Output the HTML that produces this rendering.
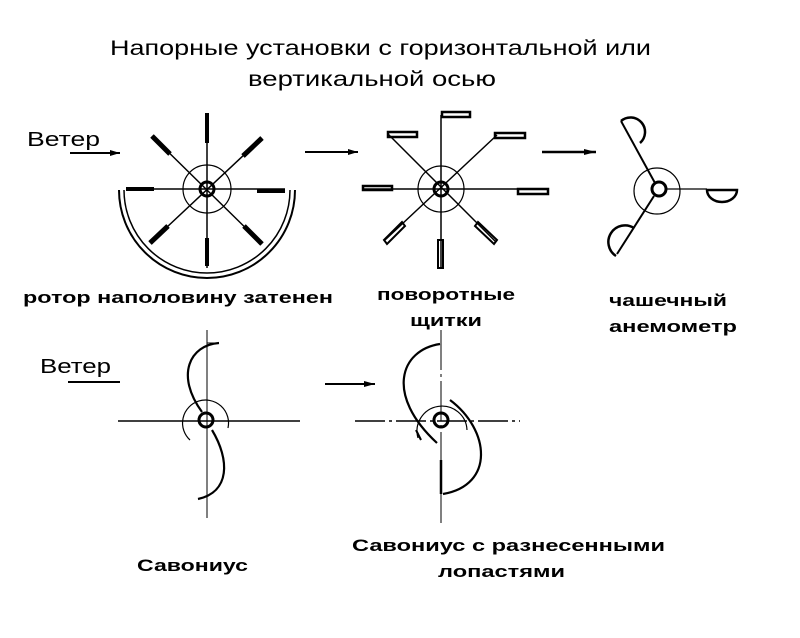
<!DOCTYPE html>
<html><head><meta charset="utf-8"><style>
html,body{margin:0;padding:0;background:#fff;}
svg{display:block;}
text{font-family:"Liberation Sans",sans-serif;fill:#000;}
.b{font-weight:bold;font-size:17px;}
</style></head><body>
<svg width="800" height="638" viewBox="0 0 800 638" xmlns="http://www.w3.org/2000/svg">
<text x="110" y="55" font-size="21" textLength="541" lengthAdjust="spacingAndGlyphs">Напорные установки с горизонтальной или</text>
<text x="248" y="86" font-size="21" textLength="248" lengthAdjust="spacingAndGlyphs">вертикальной осью</text>

<text x="27" y="146" font-size="20" textLength="73" lengthAdjust="spacingAndGlyphs">Ветер</text>
<line x1="70" y1="153" x2="120" y2="153" stroke="#000" stroke-width="2"/>
<polygon points="110,150 120,153 110,156" fill="#000"/>

<g stroke="#000" fill="none">
<line x1="207" y1="113" x2="207" y2="268" stroke-width="1.5"/>
<line x1="207" y1="113" x2="207" y2="143" stroke-width="4"/>
<line x1="207" y1="238" x2="207" y2="266" stroke-width="4"/>
<line x1="126" y1="189" x2="285" y2="189" stroke-width="1.5"/>
<line x1="126" y1="189" x2="154" y2="189" stroke-width="4"/>
<line x1="257" y1="191" x2="285" y2="191" stroke-width="4"/>
<line x1="152" y1="136" x2="262" y2="244" stroke-width="1.5"/>
<line x1="152" y1="136" x2="170" y2="154" stroke-width="5"/>
<line x1="244" y1="226" x2="262" y2="244" stroke-width="5"/>
<line x1="262" y1="138" x2="150" y2="243" stroke-width="1.5"/>
<line x1="262" y1="138" x2="243" y2="156" stroke-width="5"/>
<line x1="150" y1="243" x2="168" y2="226" stroke-width="5"/>
<circle cx="207" cy="189" r="24" stroke-width="1.2"/>
<circle cx="207" cy="189" r="7" stroke-width="3"/>
<path d="M119,190 A88,88 0 0 0 295,190" stroke-width="2"/>
<path d="M124,190 A83,83 0 0 0 290,190" stroke-width="1.5"/>
</g>

<line x1="305" y1="152" x2="358" y2="152" stroke="#000" stroke-width="2"/>
<polygon points="348,149 358,152 348,155" fill="#000"/>

<g stroke="#000" fill="none" stroke-width="1.5">
<line x1="441" y1="115" x2="441" y2="268"/>
<line x1="362" y1="189" x2="548" y2="189"/>
<line x1="388" y1="134" x2="496" y2="242"/>
<line x1="497" y1="135" x2="385" y2="240"/>
<circle cx="441" cy="189" r="23" stroke-width="1.2"/>
<circle cx="441" cy="189" r="7" stroke-width="3"/>
<rect x="442" y="112" width="28" height="5" stroke-width="2.5"/>
<rect x="388" y="132" width="29" height="5" stroke-width="2.5"/>
<rect x="495" y="133" width="30" height="5" stroke-width="2.5"/>
<rect x="363" y="186" width="29" height="4" stroke-width="2.5"/>
<rect x="518" y="189" width="30" height="5" stroke-width="2.5"/>
<rect x="438" y="240" width="5" height="28" stroke-width="2"/>
<polygon points="384,240 402,222 405,226 387,244" stroke-width="2"/>
<polygon points="478,222 497,240 494,244 475,226" stroke-width="2"/>
</g>

<line x1="542" y1="152" x2="596" y2="152" stroke="#000" stroke-width="2.5"/>
<polygon points="584,149 596,152 584,155" fill="#000"/>

<g stroke="#000" fill="none">
<circle cx="657" cy="191" r="23" stroke-width="1.2"/>
<circle cx="659" cy="189" r="7" stroke-width="3"/>
<line x1="621" y1="121" x2="655" y2="183" stroke-width="2"/>
<line x1="654" y1="196" x2="617" y2="254" stroke-width="2"/>
<line x1="666" y1="189" x2="707" y2="189" stroke-width="1.2"/>
<path d="M621,121 A14,14 0 0 1 640,143" stroke-width="2.5"/>
<path d="M634,228 A15,15 0 0 0 616,256" stroke-width="2.5"/>
<path d="M707,190 A15,12 0 0 0 737,190 Z" stroke-width="2.5"/>
</g>

<text x="23" y="303" class="b" textLength="310" lengthAdjust="spacingAndGlyphs">ротор наполовину затенен</text>
<text x="377" y="300" class="b" textLength="138" lengthAdjust="spacingAndGlyphs">поворотные</text>
<text x="410" y="326" class="b" textLength="72" lengthAdjust="spacingAndGlyphs">щитки</text>
<text x="609" y="306" class="b" textLength="118" lengthAdjust="spacingAndGlyphs">чашечный</text>
<text x="609" y="332" class="b" textLength="128" lengthAdjust="spacingAndGlyphs">анемометр</text>

<text x="40" y="373" font-size="20" textLength="71" lengthAdjust="spacingAndGlyphs">Ветер</text>
<line x1="68" y1="382" x2="120" y2="382" stroke="#000" stroke-width="2"/>

<g stroke="#000" fill="none">
<line x1="118" y1="421" x2="300" y2="421" stroke-width="1.5"/>
<line x1="207" y1="330" x2="207" y2="518" stroke-width="1"/>
<path d="M190,440 A23,23 0 1 1 228,428" stroke-width="1.2"/>
<circle cx="206" cy="420" r="7" stroke-width="3"/>
<path d="M219,343 C190,345 175,375 202,412" stroke-width="2.2"/>
<line x1="207" y1="343" x2="219" y2="343" stroke-width="1"/>
<path d="M212,430 C230,460 230,492 198,499" stroke-width="2.2"/>
</g>

<line x1="325" y1="384" x2="375" y2="384" stroke="#000" stroke-width="2"/>
<polygon points="364,381 375,384 364,387" fill="#000"/>

<g stroke="#000" fill="none">
<line x1="355" y1="421" x2="520" y2="421" stroke-width="1.5" stroke-dasharray="30,4,3,4"/>
<line x1="441" y1="330" x2="441" y2="525" stroke-width="1" stroke-dasharray="40,4,3,4"/>
<path d="M418,438 A25,25 0 1 1 467,430" stroke-width="1.2"/>
<circle cx="441" cy="420" r="7" stroke-width="3"/>
<path d="M440,344 C400,350 385,395 437,443" stroke-width="2.2"/>
<line x1="416" y1="430" x2="421" y2="440" stroke-width="2"/>
<path d="M450,400 C490,430 495,485 443,494" stroke-width="2.2"/>
<line x1="441" y1="460" x2="441" y2="494" stroke-width="2.5"/>
</g>

<text x="137" y="571" class="b" textLength="111" lengthAdjust="spacingAndGlyphs">Савониус</text>
<text x="352" y="551" class="b" textLength="313" lengthAdjust="spacingAndGlyphs">Савониус с разнесенными</text>
<text x="438" y="577" class="b" textLength="127" lengthAdjust="spacingAndGlyphs">лопастями</text>
</svg>
</body></html>
